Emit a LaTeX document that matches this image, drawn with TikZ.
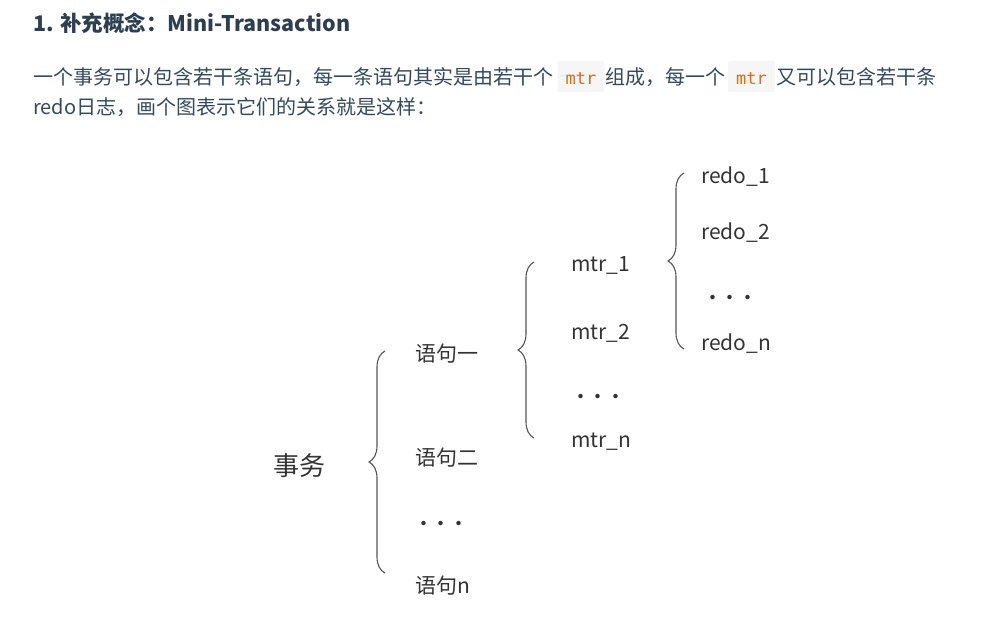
\documentclass[tikz,border=0pt]{standalone}
\usepackage{fontspec}
\setmainfont{Noto Sans CJK SC}
\setmonofont{DejaVu Sans Mono}
\usetikzlibrary{decorations.pathreplacing}
\definecolor{headcol}{HTML}{2C3E50}
\definecolor{bodycol}{HTML}{34495E}
\definecolor{codecol}{HTML}{E96900}
\definecolor{codebg}{HTML}{F6F6F6}
\definecolor{diagcol}{HTML}{333333}
\definecolor{bracecol}{HTML}{555555}
\begin{document}
\begin{tikzpicture}[x=1pt, y=-1pt,
    heading/.style={anchor=base west, inner sep=0pt, font=\fontsize{21.5}{26}\selectfont\bfseries, text=headcol},
    body/.style={anchor=base west, inner sep=0pt, font=\fontsize{20}{24}\selectfont, text=bodycol},
    code/.style={anchor=base west, inner xsep=8pt, inner ysep=7pt, text height=17pt, text depth=0pt, fill=codebg, rounded corners=2pt, font=\fontsize{17}{20}\ttfamily, text=codecol},
    item/.style={anchor=base west, inner sep=0pt, font=\fontsize{21}{25}\selectfont, text=diagcol},
    root/.style={item, font=\fontsize{26}{30}\selectfont},
    dots/.style={inner sep=0pt, font=\fontsize{21}{25}\selectfont, text=diagcol},
    curly/.style={decorate, decoration={brace, amplitude=16pt}, draw=bracecol, line width=1.1pt}
]
    \fill[white] (0,0) rectangle (994,623);

    % text above the picture
    \node[heading] (title) at (33,32) {1. 补充概念：Mini-Transaction};
    \node[body] (line1a) at (33,85) {一个事务可以包含若干条语句，每一条语句其实是由若干个};
    \node[code] (code1) at ([xshift=4pt]line1a.base east) {mtr};
    \node[body] (line1b) at ([xshift=1pt]code1.base east) {组成，每一个};
    \node[code] (code2) at ([xshift=2pt]line1b.base east) {mtr};
    \node[body] (line1c) at ([xshift=1pt]code2.base east) {又可以包含若干条};
    \node[body] (line2) at (33,115) {redo日志，画个图表示它们的关系就是这样：};

    % transaction
    \node[root] (tx) at (273,475) {事务};

    % statements
    \node[item] (stmt1) at (415,361) {语句一};
    \node[item] (stmt2) at (415,465) {语句二};
    \node[dots] (stmtdots) at (441,526) {·\hspace{-3.5pt}·\hspace{-3.5pt}·};
    \node[item] (stmtn) at (415,593) {语句n};

    % mini-transactions
    \node[item] (mtr1) at (571,271) {mtr\_1};
    \node[item] (mtr2) at (571,339) {mtr\_2};
    \node[dots] (mtrdots) at (598,399) {·\hspace{-3.5pt}·\hspace{-3.5pt}·};
    \node[item] (mtrn) at (571,447) {mtr\_n};

    % redo logs
    \node[item] (redo1) at (701,183) {redo\_1};
    \node[item] (redo2) at (701,240) {redo\_2};
    \node[dots] (redodots) at (730,300) {·\hspace{-3.5pt}·\hspace{-3.5pt}·};
    \node[item] (redon) at (701,350) {redo\_n};

    % braces
    \coordinate (txtop) at (385,351);
    \coordinate (txbot) at (385,573);
    \coordinate (stmttop) at (534,262);
    \coordinate (stmtbot) at (534,438);
    \coordinate (mtrtop) at (684,173);
    \coordinate (mtrbot) at (684,349);
    \draw[curly] (txbot) -- (txtop);
    \draw[curly] (stmtbot) -- (stmttop);
    \draw[curly] (mtrbot) -- (mtrtop);
\end{tikzpicture}
\end{document}
